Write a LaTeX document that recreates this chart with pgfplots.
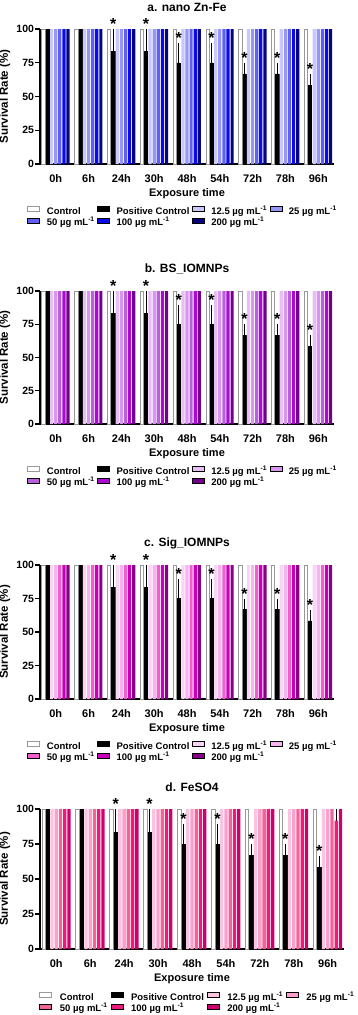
\documentclass[border=0pt]{standalone}
\usepackage{pgfplots}
\pgfplotsset{compat=1.18}
\usepackage{fontspec}
\setmainfont{Liberation Sans}

\definecolor{a1}{RGB}{200,200,255}
\definecolor{a2}{RGB}{150,150,245}
\definecolor{a3}{RGB}{95,95,240}
\definecolor{a4}{RGB}{10,10,235}
\definecolor{a5}{RGB}{5,5,125}
\definecolor{b1}{RGB}{232,190,245}
\definecolor{b2}{RGB}{215,150,240}
\definecolor{b3}{RGB}{185,95,220}
\definecolor{b4}{RGB}{170,10,210}
\definecolor{b5}{RGB}{115,0,140}
\definecolor{c1}{RGB}{250,212,245}
\definecolor{c2}{RGB}{245,180,238}
\definecolor{c3}{RGB}{240,95,205}
\definecolor{c4}{RGB}{200,0,185}
\definecolor{c5}{RGB}{135,0,135}
\definecolor{d1}{RGB}{250,195,222}
\definecolor{d2}{RGB}{250,160,205}
\definecolor{d3}{RGB}{240,100,150}
\definecolor{d4}{RGB}{238,25,125}
\definecolor{d5}{RGB}{205,0,110}

\newcommand{\ug}{µg mL\textsuperscript{-1}}

\pgfplotsset{
  mybar/.style={ybar, bar width=\bw,
    legend image code/.code={\draw[##1] (0pt,0.5pt) rectangle (12pt,5.5pt);}},
  errplot/.style={draw=none, mark=none, forget plot,
    error bars/.cd, y dir=plus, y explicit, error mark=none,
    error bar style={draw=black, line width=0.7pt}},
  panelbase/.style={
    scale only axis, clip=false,
    ymin=0, ymax=100, ytick={0,25,50,75,100},
    xmin=-0.48, xmax=8.48, xtick={0,...,8},
    xticklabels={0h,6h,24h,30h,48h,54h,72h,78h,96h},
    axis lines*=left,
    axis line style={line width=1.3pt},
    tick align=outside, major tick length=5pt,
    xtick style={draw=none},
    ytick style={black, line width=1.2pt},
    /pgf/number format/assume math mode=true,
    yticklabel style={font=\fontsize{10.5}{12}\selectfont\bfseries, xshift=2.5pt},
    xticklabel style={font=\fontsize{11}{13}\selectfont\bfseries, yshift=-1.5pt},
    every axis title/.style={at={(axis description cs:0.5,1)}, anchor=center, yshift=22pt,
      font=\fontsize{12}{14}\selectfont\bfseries},
    every axis x label/.style={at={(axis description cs:0.5,0)}, anchor=center, yshift=-30pt,
      font=\fontsize{11}{13}\selectfont\bfseries},
    every axis y label/.style={at={(axis description cs:0,0.5)}, xshift=-35pt, rotate=90, anchor=center,
      font=\fontsize{11.5}{13}\selectfont\bfseries},
    xlabel={Exposure time}, ylabel={Survival Rate (\%)},
    legend columns=4,
  },
  legA/.style={legend style={at={(axis description cs:0,0)}, anchor=north west,
      xshift=-13pt, yshift=-42pt, draw=none, fill=none, inner sep=0pt,
      font=\fontsize{9.5}{11}\selectfont\bfseries,
      cells={anchor=west},
      nodes={inner sep=1pt, text height=7pt, text depth=2pt},
      /tikz/every odd column/.append style={column sep=6pt},
      /tikz/every even column/.append style={column sep=1.5pt}}},
  legD/.style={legend style={at={(axis description cs:0,0)}, anchor=north west,
      xshift=-1pt, yshift=-43pt, draw=none, fill=none, inner sep=0pt,
      font=\fontsize{9.5}{11}\selectfont\bfseries,
      cells={anchor=west},
      nodes={inner sep=1pt, text height=7pt, text depth=2pt},
      /tikz/every odd column/.append style={column sep=7pt},
      /tikz/every even column/.append style={column sep=2pt}}},
}

% #1 title, #2 top, #3 height, #4 width, #5 colour prefix, #6 100 ug series,
% #7 legend style, #8 error bars of the 100 ug series (at the bar's x position)
\newcommand{\panel}[8]{%
\begin{axis}[panelbase, at={(40pt,-#2pt)}, anchor=north west,
  width=#4pt, height=#3pt, title={#1}, #7]
\addplot[mybar, bar shift={-3*\bs}, fill=white, draw=gray!80, line width=0.7pt]
  coordinates {(0,100) (1,100) (2,100) (3,100) (4,100) (5,100) (6,100) (7,100) (8,100)};
\addplot[mybar, bar shift={-2*\bs}, fill=black, draw=black]
  coordinates {(0,100) (1,100) (2,83.33) (3,83.33) (4,75) (5,75) (6,66.67) (7,66.67) (8,58.33)};
\addplot[mybar, bar shift={-1*\bs}, fill=#51, draw=none]
  coordinates {(0,100) (1,100) (2,100) (3,100) (4,100) (5,100) (6,100) (7,100) (8,100)};
\addplot[mybar, bar shift={0pt}, fill=#52, draw=none]
  coordinates {(0,100) (1,100) (2,100) (3,100) (4,100) (5,100) (6,100) (7,100) (8,100)};
\addplot[mybar, bar shift={1*\bs}, fill=#53, draw=none]
  coordinates {(0,100) (1,100) (2,100) (3,100) (4,100) (5,100) (6,100) (7,100) (8,100)};
\addplot[mybar, bar shift={2*\bs}, fill=#54, draw=none]
  coordinates {#6};
\addplot[mybar, bar shift={3*\bs}, fill=#55, draw=none]
  coordinates {(0,100) (1,100) (2,100) (3,100) (4,100) (5,100) (6,100) (7,100) (8,100)};
% error bars of the positive control (x = group - 0.25, the bar's position)
\addplot[errplot]
  coordinates {(1.75,83.33) +- (0,16.67) (2.75,83.33) +- (0,16.67)
    (3.75,75) +- (0,14.4) (4.75,75) +- (0,14.4) (5.75,66.67) +- (0,8.33) (6.75,66.67) +- (0,8.33)
    (7.75,58.33) +- (0,8.33)};
\addplot[errplot] coordinates {#8};
% significance stars above the positive control
\addplot[draw=none, mark=none, forget plot,
  nodes near coords={*},
  every node near coord/.append style={font=\fontsize{16}{16}\selectfont\bfseries,
    anchor=base, yshift=-0.5pt, inner sep=0pt, text=black}]
  coordinates {(1.75,100) (2.75,100) (3.75,89.4) (4.75,89.4) (5.75,75) (6.75,75) (7.75,66.67)};
\legend{Control, Positive Control, 12.5 \ug, 25 \ug, 50 \ug, 100 \ug, 200 \ug}
\end{axis}}

\begin{document}
\begin{tikzpicture}
\path[use as bounding box] (0,0) rectangle (358pt,-1015pt);
\def\bw{3.2pt}\def\bs{4.1pt}
\panel{a. nano Zn-Fe}{29}{135}{294}{a}{(0,100) (1,100) (2,100) (3,100) (4,100) (5,100) (6,100) (7,100) (8,100)}{legA}{(8.25,100) +- (0,0)}
\panel{b. BS\_IOMNPs}{291}{133}{294}{b}{(0,100) (1,100) (2,100) (3,100) (4,100) (5,100) (6,100) (7,100) (8,100)}{legA}{(8.25,100) +- (0,0)}
\panel{c. Sig\_IOMNPs}{565}{134}{294}{c}{(0,100) (1,100) (2,100) (3,100) (4,100) (5,100) (6,100) (7,100) (8,100)}{legA}{(8.25,100) +- (0,0)}
\def\bw{3.35pt}\def\bs{4.25pt}
\panel{d. FeSO4}{809}{140}{304}{d}{(0,100) (1,100) (2,100) (3,100) (4,100) (5,100) (6,100) (7,100) (8,91.7)}{legD}{(8.25,91.7) +- (0,8.3)}
\end{tikzpicture}
\end{document}
